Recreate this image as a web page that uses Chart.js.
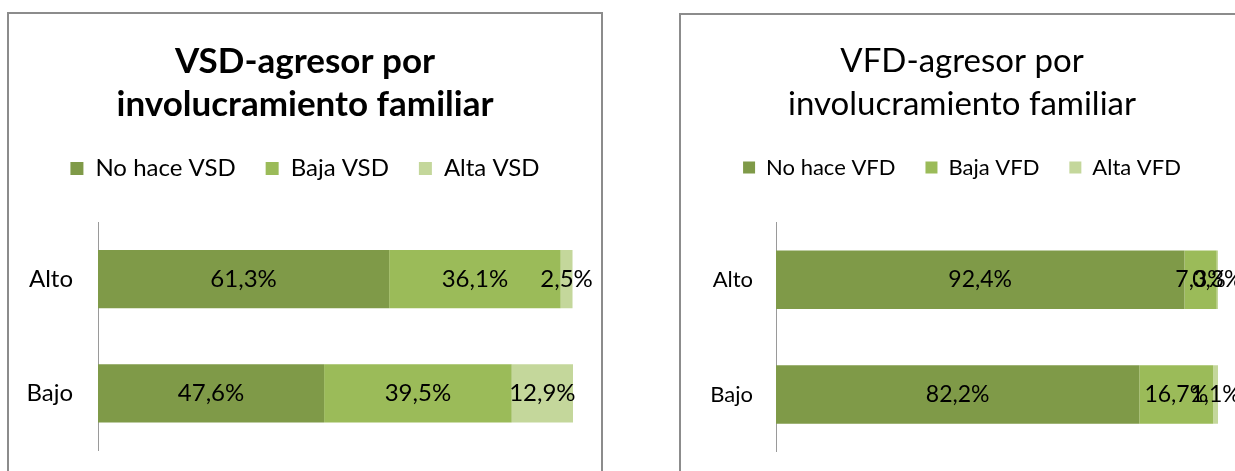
<!DOCTYPE html>
<html>
<head>
<meta charset="utf-8">
<script src="https://cdn.jsdelivr.net/npm/chart.js@4.4.0/dist/chart.umd.min.js"></script>
<style>
  html, body { margin: 0; padding: 0; background: #fff; width: 1235px; height: 471px; overflow: hidden; position: relative; }
  .box { position: absolute; border: 2px solid #8c8c8c; box-sizing: border-box; }
  canvas { position: absolute; }
</style>
</head>
<body>
<div class="box" style="left:7px; top:12px; width:596px; height:480px;"></div>
<div class="box" style="left:679px; top:13px; width:600px; height:480px;"></div>
<canvas id="c1" width="592" height="476" style="left:9px; top:14px;"></canvas>
<canvas id="c2" width="562" height="473" style="left:681px; top:15px;"></canvas>
<script>
// ---- data ----
const categories = ['Alto', 'Bajo'];

const vsdSeriesNames = ['No hace VSD', 'Baja VSD', 'Alta VSD'];
const vsdNoHace = [61.3, 47.6];
const vsdBaja   = [36.1, 39.5];
const vsdAlta   = [2.5, 12.9];

const vfdSeriesNames = ['No hace VFD', 'Baja VFD', 'Alta VFD'];
const vfdNoHace = [92.4, 82.2];
const vfdBaja   = [7.3, 16.7];
const vfdAlta   = [0.3, 1.1];

const vsdTitle = ['VSD-agresor por', 'involucramiento familiar'];
const vfdTitle = ['VFD-agresor por', 'involucramiento familiar'];

// ---- styles ----
const colors = ['#7F9A48', '#9BBB59', '#C4D79B'];
const FONT = 'Lato, "Open Sans", sans-serif';

const fmt = v => v.toFixed(1).replace('.', ',') + '%';

const dataLabelPlugin = {
  id: 'dataLabels',
  afterDatasetsDraw(chart, args, opts) {
    const ctx = chart.ctx;
    ctx.save();
    ctx.font = opts.font;
    ctx.fillStyle = '#000';
    ctx.textAlign = 'center';
    ctx.textBaseline = 'middle';
    chart.data.datasets.forEach((ds, di) => {
      const meta = chart.getDatasetMeta(di);
      meta.data.forEach((el, i) => {
        const x = (el.x + el.base) / 2;
        ctx.fillText(fmt(ds.data[i]), x, el.y);
      });
    });
    ctx.restore();
  }
};

const legendSpacer = {
  id: 'legendSpacer',
  beforeLayout(chart, args, opts) {
    const lg = chart.legend;
    if (lg && !lg._patched) {
      const orig = lg.fit;
      lg.fit = function () { orig.call(this); this.height += opts.extra; };
      lg._patched = true;
    }
  }
};

function makeChart(id, p) {
  return new Chart(document.getElementById(id), {
    type: 'bar',
    data: {
      labels: categories,
      datasets: p.series.map((s, i) => ({
        label: p.names[i],
        data: s,
        backgroundColor: colors[i],
        borderWidth: 0,
        categoryPercentage: 1,
        barPercentage: 0.51
      }))
    },
    options: {
      indexAxis: 'y',
      responsive: false,
      animation: false,
      events: [],
      layout: { padding: 0 },
      scales: {
        x: { stacked: true, min: 0, max: 100, display: false },
        y: {
          stacked: true,
          grid: { display: false, drawTicks: false },
          border: { display: true, color: '#9a9a9a', width: 1 },
          ticks: { color: '#000', font: { family: FONT, size: p.tickSize, weight: 'normal' }, padding: p.tickPad },
          afterFit(scale) { scale.width = p.axisWidth; }
        },
        yRightSpace: {
          type: 'category',
          position: 'right',
          display: true,
          grid: { display: false },
          border: { display: false },
          ticks: { display: false },
          afterFit(scale) { scale.width = p.rightSpace; }
        }
      },
      plugins: {
        title: {
          display: true,
          text: p.title,
          color: '#000',
          font: { family: FONT, size: p.titleSize, weight: p.titleWeight, lineHeight: p.titleLH },
          padding: { top: p.titleTop, bottom: p.titleBottom }
        },
        legend: {
          display: true,
          position: 'top',
          labels: {
            color: '#000',
            font: { family: FONT, size: p.legendSize, weight: 'normal' },
            boxWidth: p.box, boxHeight: p.box,
            padding: 30
          }
        },
        tooltip: { enabled: false },
        dataLabels: { font: p.labelFont },
        legendSpacer: { extra: p.extra }
      }
    },
    plugins: [dataLabelPlugin, legendSpacer]
  });
}

makeChart('c1', {
  series: [vsdNoHace, vsdBaja, vsdAlta],
  names: vsdSeriesNames,
  title: vsdTitle,
  titleSize: 35, titleWeight: 'bold', titleLH: 43 / 35, titleTop: 26.5, titleBottom: 0,
  legendSize: 24, box: 13,
  tickSize: 24, tickPad: 25,
  axisWidth: 89, rightSpace: 28, extra: 31.5,
  labelFont: '24px ' + FONT
});

makeChart('c2', {
  series: [vfdNoHace, vfdBaja, vfdAlta],
  names: vfdSeriesNames,
  title: vfdTitle,
  titleSize: 33, titleWeight: 'normal', titleLH: 43 / 33, titleTop: 25, titleBottom: 0.5,
  legendSize: 22, box: 12,
  tickSize: 22, tickPad: 23,
  axisWidth: 95, rightSpace: 25, extra: 34,
  labelFont: '23px ' + FONT
});
</script>
</body>
</html>
